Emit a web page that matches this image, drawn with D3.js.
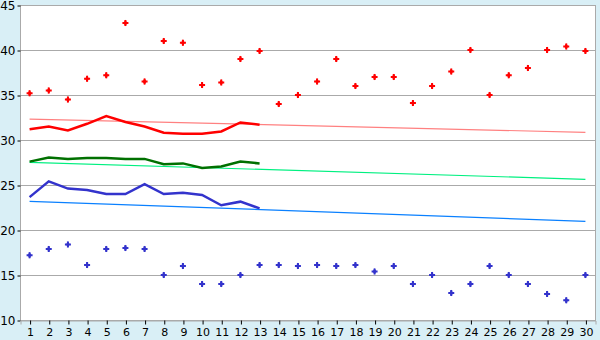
<!DOCTYPE html>
<head>
<meta charset="utf-8">
<style>
    body { margin: 0; background: #d9eff6; }
    text { font-family: "DejaVu Sans", Verdana, sans-serif; font-size: 11px; fill: #000; }
</style>
</head>
<body>
<script src="https://cdn.jsdelivr.net/npm/d3@7"></script>
<script>

    ///////////////////////////
    ////////// DATA //////////
    ///////////////////////////

    const days = d3.range(1, 31);
    const yTicks = [10, 15, 20, 25, 30, 35, 40, 45];

    const highPoints = [35.2, 35.5, 34.5, 36.8, 37.2, 43, 36.5, 41, 40.8, 36.1,
                        36.4, 39, 39.9, 34, 35, 36.5, 39, 36, 37, 37,
                        34.1, 36, 37.6, 40, 35, 37.2, 38, 40, 40.4, 39.9];
    const lowPoints = [17.2, 17.9, 18.4, 16.1, 17.9, 18, 17.9, 15, 16, 14,
                       14, 15, 16.1, 16.1, 16, 16.1, 16, 16.1, 15.4, 16,
                       14, 15, 13, 14, 16, 15, 14, 12.9, 12.2, 15];

    // thick lines, days 1-13
    const redLine = [31.2, 31.5, 31.05, 31.8, 32.65, 32.0, 31.5, 30.8, 30.7, 30.7, 30.95, 31.95, 31.7];
    const greenLine = [27.6, 28.05, 27.9, 28.0, 28.0, 27.9, 27.9, 27.3, 27.4, 26.9, 27.05, 27.6, 27.4];
    const blueLine = [23.65, 25.4, 24.6, 24.45, 24.0, 24.0, 25.1, 24.0, 24.15, 23.9, 22.75, 23.15, 22.4];

    // thin trend lines: value at day 1 and day 30
    const redTrend = [32.33, 30.85];
    const greenTrend = [27.52, 25.63];
    const blueTrend = [23.19, 20.96];

    ///////////////////////////
    ////////// SETUP //////////
    ///////////////////////////

    const W = 600, H = 340;
    const plot = { left: 20, right: 595, top: 5, bottom: 320 };

    const svg = d3.select('body').append('svg')
        .attr('width', W)
        .attr('height', H)
        .style('display', 'block');

    const x = d3.scalePoint().domain(days).range([plot.left, plot.right]).padding(0.5);
    const y = d3.scaleLinear().domain([10, 45]).range([plot.bottom, plot.top]);

    svg.append('rect')
        .attr('x', plot.left).attr('y', plot.top)
        .attr('width', plot.right - plot.left)
        .attr('height', plot.bottom - plot.top)
        .attr('fill', '#fff');

    // grid
    svg.append('g').selectAll('line').data(yTicks).join('line')
        .attr('x1', plot.left).attr('x2', plot.right)
        .attr('y1', d => y(d) + 0.5).attr('y2', d => y(d) + 0.5)
        .attr('stroke', '#aaa');

    svg.append('line')
        .attr('x1', plot.left + 0.5).attr('x2', plot.left + 0.5)
        .attr('y1', plot.top).attr('y2', plot.bottom)
        .attr('stroke', '#aaa');
    svg.append('line')
        .attr('x1', plot.right + 0.5).attr('x2', plot.right + 0.5)
        .attr('y1', plot.top).attr('y2', plot.bottom + 1)
        .attr('stroke', '#aaa');

    // axes
    const yAxis = svg.append('g')
        .attr('transform', 'translate(' + (plot.left + 0.5) + ',0.5)')
        .call(d3.axisLeft(y).tickValues(yTicks).tickSize(3).tickPadding(2));
    yAxis.select('.domain').remove();
    yAxis.selectAll('text').attr('dy', '0.36em').style('font-size', '12px');

    const xAxis = svg.append('g')
        .attr('transform', 'translate(0.5,' + (plot.bottom + 0.5) + ')')
        .call(d3.axisBottom(x).tickSize(4).tickPadding(4));
    xAxis.select('.domain').attr('stroke', '#aaa');
    xAxis.selectAll('text').style('font-size', '11px');

    //////////////////////////
    ////////// DRAW //////////
    //////////////////////////

    const line = d3.line()
        .x((d, i) => x(days[i]))
        .y(d => y(d));

    const trendLine = d3.line()
        .x((d, i) => x(i === 0 ? days[0] : days[days.length - 1]))
        .y(d => y(d));

    [[redTrend, '#ff8080'], [greenTrend, '#00f080'], [blueTrend, '#0a80ff']].forEach(t => {
        svg.append('path')
            .attr('d', trendLine(t[0]))
            .attr('fill', 'none')
            .attr('stroke', t[1])
            .attr('stroke-width', 1.2);
    });

    [[redLine, '#ff0000'], [greenLine, '#007000'], [blueLine, '#3333cc']].forEach(t => {
        svg.append('path')
            .attr('d', line(t[0]))
            .attr('fill', 'none')
            .attr('stroke', t[1])
            .attr('stroke-width', 2.5);
    });

    const cross = d3.symbol().type(d3.symbolCross).size(20);
    const dot = d3.symbol().type(d3.symbolDiamond).size(12);

    function markers(data, color) {
        const g = svg.append('g').selectAll('g').data(data).join('g')
            .attr('transform', (d, i) => 'translate(' + x(days[i]) + ',' + y(d) + ')')
            .attr('fill', color);
        g.append('path').attr('d', cross);
        g.append('path').attr('d', dot);
    }
    markers(highPoints, '#ff0000');
    markers(lowPoints, '#3333cc');

</script>
</body>
